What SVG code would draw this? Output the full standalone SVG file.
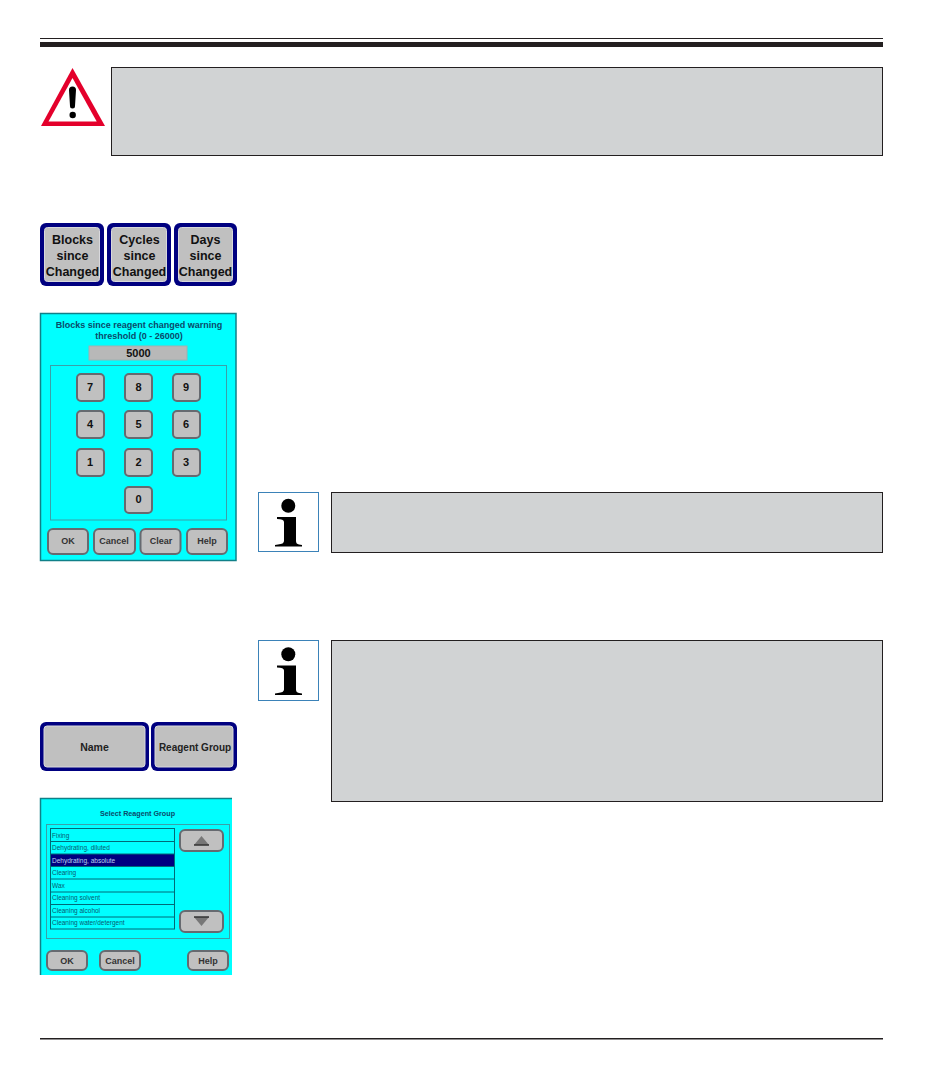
<svg xmlns="http://www.w3.org/2000/svg" width="950" height="1086" viewBox="0 0 950 1086">
<defs>
<style>
text{font-family:"Liberation Sans",Arial,sans-serif;font-weight:bold;text-anchor:middle}
.note{fill:#d1d3d4;stroke:#231f20;stroke-width:1}
.tab{fill:#000080}
.tabin{fill:#c0c0c0;stroke:#d8d8dc;stroke-width:1}
.tt{font-size:12.5px;fill:#111}
.key{fill:#c0c0c0;stroke:#666a70;stroke-width:2}
.kt{font-size:11px;fill:#111}
.bt{font-size:9px;fill:#333}
.panel{fill:#00ffff}
.frame{fill:none;stroke:#3aa0a8;stroke-width:1}
.info{fill:#fff;stroke:#3b82b8;stroke-width:1}
.li{font-size:6.500px;font-weight:normal;text-anchor:start;fill:#0a5a70}
.row{fill:none;stroke:#006a78;stroke-width:1}
</style>
<g id="infoIcon">
<circle cx="30.300" cy="13.700" r="7"/>
<path d="M19 25H38V49Q38 52 41 52.500L44 53V54.500H17V53L20 52.500Q26 52 26 49V30Q26 27 19 27Z"/>
</g>
</defs>
<rect width="950" height="1086" fill="#fff"/>
<g id="rules" fill="#231f20">
<rect x="40" y="38" width="843" height="1"/>
<rect x="40" y="42" width="843" height="5"/>
<rect x="40" y="1038" width="843" height="1.500"/>
</g>
<g id="warning">
<path d="M72.500 68L105 126H41Z" fill="#e4002b"/>
<path d="M72.500 78L48.500 121.500H96.700Z" fill="#fff"/>
<path d="M69 90Q69 86.500 72.500 86.500Q76 86.500 76 90L75 106Q75 108.500 72.500 108.500Q70 108.500 70 106Z" fill="#000"/>
<circle cx="72.700" cy="115" r="3.200" fill="#000"/>
<rect class="note" x="111.500" y="67.500" width="771" height="88"/>
</g>
<g id="tab-blocks">
<rect class="tab" x="40" y="223" width="64" height="63" rx="6"/>
<rect class="tabin" x="44.500" y="227.500" width="55" height="54" rx="3"/>
<text class="tt" x="72.500" y="244">Blocks</text><text class="tt" x="72.500" y="260">since</text><text class="tt" x="72.500" y="276">Changed</text>
</g>
<g id="tab-cycles">
<rect class="tab" x="107" y="223" width="64" height="63" rx="6"/>
<rect class="tabin" x="111.500" y="227.500" width="55" height="54" rx="3"/>
<text class="tt" x="139.500" y="244">Cycles</text><text class="tt" x="139.500" y="260">since</text><text class="tt" x="139.500" y="276">Changed</text>
</g>
<g id="tab-days">
<rect class="tab" x="174" y="223" width="63" height="63" rx="6"/>
<rect class="tabin" x="178.500" y="227.500" width="54" height="54" rx="3"/>
<text class="tt" x="205.500" y="244">Days</text><text class="tt" x="205.500" y="260">since</text><text class="tt" x="205.500" y="276">Changed</text>
</g>
<g id="keypad">
<rect class="panel" x="40.500" y="313.500" width="195.500" height="247" stroke="#108088" stroke-width="1.500"/>
<text x="139" y="328" font-size="9" fill="#0b4a6a">Blocks since reagent changed warning</text>
<text x="139" y="339" font-size="9" fill="#0b4a6a">threshold (0 - 26000)</text>
<rect x="89" y="346" width="98" height="14" fill="#b8b8b8" stroke="#a0b0b0" stroke-width="1"/>
<text x="138.500" y="357" font-size="11" fill="#111">5000</text>
<rect class="frame" x="50.500" y="365.500" width="176" height="154.500"/>
<rect class="key" x="77" y="374" width="27" height="27" rx="4"/><text class="kt" x="90" y="391">7</text>
<rect class="key" x="125" y="374" width="27" height="27" rx="4"/><text class="kt" x="138.500" y="391">8</text>
<rect class="key" x="173" y="374" width="27" height="27" rx="4"/><text class="kt" x="186" y="391">9</text>
<rect class="key" x="77" y="411" width="27" height="27" rx="4"/><text class="kt" x="90" y="428">4</text>
<rect class="key" x="125" y="411" width="27" height="27" rx="4"/><text class="kt" x="138.500" y="428">5</text>
<rect class="key" x="173" y="411" width="27" height="27" rx="4"/><text class="kt" x="186" y="428">6</text>
<rect class="key" x="77" y="449" width="27" height="27" rx="4"/><text class="kt" x="90" y="466">1</text>
<rect class="key" x="125" y="449" width="27" height="27" rx="4"/><text class="kt" x="138.500" y="466">2</text>
<rect class="key" x="173" y="449" width="27" height="27" rx="4"/><text class="kt" x="186" y="466">3</text>
<rect class="key" x="125" y="487" width="27" height="26" rx="4"/><text class="kt" x="138.500" y="503">0</text>
<rect class="key" x="48" y="529" width="40" height="25" rx="5"/><text class="bt" x="68" y="544">OK</text>
<rect class="key" x="94" y="529" width="41" height="25" rx="5"/><text class="bt" x="114" y="544">Cancel</text>
<rect class="key" x="140.500" y="529" width="40" height="25" rx="5"/><text class="bt" x="161" y="544">Clear</text>
<rect class="key" x="187" y="529" width="40" height="25" rx="5"/><text class="bt" x="207" y="544">Help</text>
</g>
<g id="note1">
<rect class="info" x="258.500" y="492.500" width="60" height="59"/>
<use href="#infoIcon" transform="translate(258 492)"/>
<rect class="note" x="331.500" y="492.500" width="551" height="60"/>
</g>
<g id="note2">
<rect class="info" x="258.500" y="640.500" width="60" height="60"/>
<use href="#infoIcon" transform="translate(258 640.500)"/>
<rect class="note" x="331.500" y="640.500" width="551" height="161"/>
</g>
<g id="tab-name">
<rect class="tab" x="40" y="722" width="109" height="49" rx="6"/>
<rect class="tabin" x="44" y="726" width="101" height="41" rx="3"/>
<text x="94.500" y="751" font-size="10.500" fill="#222">Name</text>
</g>
<g id="tab-group">
<rect class="tab" x="151" y="722" width="86" height="49" rx="6"/>
<rect class="tabin" x="155" y="726" width="78" height="41" rx="3"/>
<text x="195" y="751" font-size="10" fill="#222">Reagent Group</text>
</g>
<g id="select-group">
<rect class="panel" x="40" y="798" width="192" height="177"/>
<path d="M40.500 975V798.500H232" fill="none" stroke="#108088" stroke-width="1.500"/>
<text x="137.500" y="815.500" font-size="7.200" fill="#0b4a6a">Select Reagent Group</text>
<rect class="frame" x="46.500" y="824.500" width="183" height="114"/>
<rect x="50.500" y="854" width="124" height="12.500" fill="#000080"/>
<rect class="row" x="50.500" y="828.500" width="124" height="100.500"/>
<path class="row" d="M50.500 841.500H174.500M50.500 854H174.500M50.500 866.500H174.500M50.500 879H174.500M50.500 892H174.500M50.500 904.500H174.500M50.500 917H174.500"/>
<text class="li" x="52" y="838">Fixing</text>
<text class="li" x="52" y="850">Dehydrating, diluted</text>
<text class="li" x="52" y="862.500" style="fill:#bcd4f0">Dehydrating, absolute</text>
<text class="li" x="52" y="875">Clearing</text>
<text class="li" x="52" y="888">Wax</text>
<text class="li" x="52" y="900">Cleaning solvent</text>
<text class="li" x="52" y="913">Cleaning alcohol</text>
<text class="li" x="52" y="925">Cleaning water/detergent</text>
<rect class="key" x="180" y="830" width="43" height="21" rx="5"/>
<path d="M194 845L201.500 836L209 845Z" fill="#777"/><path d="M194 845H209" stroke="#333" stroke-width="1.500"/>
<rect class="key" x="180" y="911" width="43" height="21" rx="5"/>
<path d="M194 917L201.500 926L209 917Z" fill="#777"/><path d="M194 917H209" stroke="#333" stroke-width="1.500"/>
<rect class="key" x="47" y="951" width="40" height="19" rx="5"/><text class="bt" x="67" y="964">OK</text>
<rect class="key" x="100" y="951" width="40" height="19" rx="5"/><text class="bt" x="120" y="964">Cancel</text>
<rect class="key" x="188" y="951" width="40" height="19" rx="5"/><text class="bt" x="208" y="964">Help</text>
</g>
</svg>
